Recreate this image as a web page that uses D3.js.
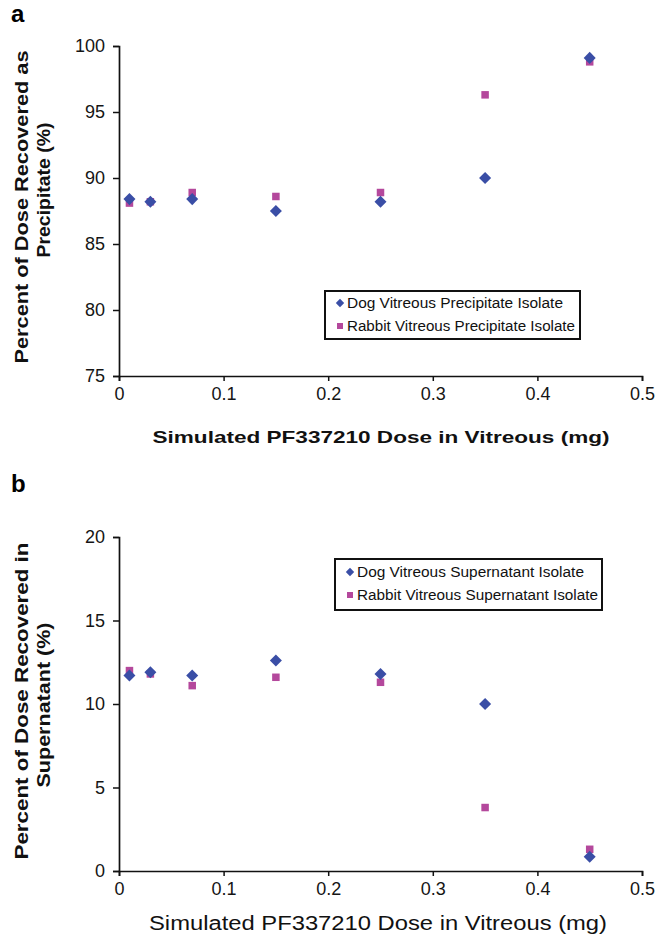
<!DOCTYPE html>
<html>
<head>
<meta charset="utf-8">
<script src="https://cdn.jsdelivr.net/npm/d3@7"></script>
<style>
  body { margin: 0; background: #fff; }
  svg { display: block; font-family: "Liberation Sans", Arial, sans-serif; }
</style>
</head>
<body>
<svg id="chart" width="657" height="944"></svg>
<script>
// doses (mg)
const doses = [0.01, 0.03, 0.07, 0.15, 0.25, 0.35, 0.45];

// panel a - precipitate
const dogPrecip = [88.4, 88.2, 88.4, 87.5, 88.2, 90.0, 99.1];
const rabbitPrecip = [88.1, 88.2, 88.9, 88.6, 88.9, 96.3, 98.8];
const precipTicks = [75, 80, 85, 90, 95, 100];

// panel b - supernatant
const dogSuper = [11.7, 11.9, 11.7, 12.6, 11.8, 10.0, 0.85];
const rabbitSuper = [12.0, 11.8, 11.1, 11.6, 11.3, 3.8, 1.3];
const superTicks = [0, 5, 10, 15, 20];

const xTicks = [0, 0.1, 0.2, 0.3, 0.4, 0.5];
const xTitle = "Simulated PF337210 Dose in Vitreous (mg)";

const dogColor = "#3a4ea6", rabbitColor = "#b4489c";

const svg = d3.select("#chart");

function panel(opt) {
    const g = svg.append("g");
    const x = d3.scaleLinear().domain([0, 0.5]).range([119, 642]);
    const y = d3.scaleLinear().domain(opt.yDomain).range([opt.bottom, opt.top]);

    // axes
    const xa = g.append("g")
        .attr("transform", `translate(0,${opt.bottom})`)
        .call(d3.axisBottom(x).tickValues(xTicks).tickSize(5).tickPadding(6)
            .tickFormat(d => d === 0 ? "0" : d3.format(".1f")(d)));
    const ya = g.append("g")
        .attr("transform", "translate(119,0)")
        .call(d3.axisLeft(y).tickValues(opt.yTicks).tickSize(6).tickPadding(8));
    [xa, ya].forEach(a => {
        a.select(".domain").attr("stroke", "#111").attr("stroke-width", 1.7);
        a.selectAll(".tick line").attr("stroke", "#111").attr("stroke-width", 1.5);
        a.selectAll("text").attr("font-size", 18).attr("fill", "#151515")
            .attr("font-family", "'Liberation Sans', Arial, sans-serif");
    });

    // panel letter
    g.append("text").attr("x", 11).attr("y", opt.letterY)
        .attr("font-size", 24).attr("font-weight", "bold").text(opt.letter);

    // y title (two lines)
    opt.yTitle.forEach((t, i) => {
        g.append("text")
            .attr("transform", `translate(${opt.yTitleX[i]},${opt.yTitleY[i]}) rotate(-90)`)
            .attr("text-anchor", "middle")
            .attr("font-size", 18).attr("font-weight", "bold").attr("fill", "#111")
            .attr("textLength", opt.yTitleLen[i]).attr("lengthAdjust", "spacingAndGlyphs")
            .text(t);
    });

    // x title
    g.append("text")
        .attr("x", opt.xTitleX).attr("y", opt.xTitleBase)
        .attr("text-anchor", "middle")
        .attr("font-size", opt.xTitleSize).attr("font-weight", opt.xTitleWeight).attr("fill", "#111")
        .attr("textLength", opt.xTitleLen).attr("lengthAdjust", "spacingAndGlyphs")
        .text(xTitle);

    // points: rabbit squares under dog diamonds
    const sq = 7.5;
    const diamond = d3.symbol().type(d3.symbolDiamond2).size(92);
    g.append("g").selectAll("rect")
        .data(doses.map((d, i) => [d, opt.rabbit[i]])).join("rect")
        .attr("x", d => x(d[0]) - sq / 2).attr("y", d => y(d[1]) - sq / 2)
        .attr("width", sq).attr("height", sq).attr("fill", rabbitColor);
    g.append("g").selectAll("path")
        .data(doses.map((d, i) => [d, opt.dog[i]])).join("path")
        .attr("transform", d => `translate(${x(d[0])},${y(d[1])})`)
        .attr("d", diamond).attr("fill", dogColor);

    // legend
    const L = opt.legend;
    const lg = g.append("g");
    lg.append("rect").attr("x", L.x).attr("y", L.y).attr("width", L.w).attr("height", L.h)
        .attr("fill", "#fff").attr("stroke", "#111").attr("stroke-width", 2);
    L.labels.forEach((t, i) => {
        const cy = L.y + L.rows[i];
        if (i === 0) {
            lg.append("path").attr("transform", `translate(${L.x + 15},${cy})`)
                .attr("d", d3.symbol().type(d3.symbolDiamond2).size(45)).attr("fill", dogColor);
        } else {
            lg.append("rect").attr("x", L.x + 15 - 3).attr("y", cy - 3)
                .attr("width", 6).attr("height", 6).attr("fill", rabbitColor);
        }
        lg.append("text").attr("x", L.x + 22).attr("y", cy + 5)
            .attr("font-size", 14).attr("fill", "#111")
            .attr("textLength", L.lens[i]).attr("lengthAdjust", "spacingAndGlyphs")
            .text(t);
    });
}

panel({
    letter: "a", letterY: 22,
    yDomain: [75, 100], yTicks: precipTicks, top: 46, bottom: 376,
    dog: dogPrecip, rabbit: rabbitPrecip,
    yTitle: ["Percent of Dose Recovered as", "Precipitate (%)"],
    yTitleX: [28, 50], yTitleY: [207, 190], yTitleLen: [313, 135],
    xTitleX: 381, xTitleBase: 443, xTitleSize: 17, xTitleWeight: "bold", xTitleLen: 457,
    legend: {x: 325, y: 291, w: 255, h: 48, rows: [12, 35],
        labels: ["Dog Vitreous Precipitate Isolate", "Rabbit Vitreous Precipitate Isolate"],
        lens: [216, 228]}
});

panel({
    letter: "b", letterY: 492,
    yDomain: [0, 20], yTicks: superTicks, top: 537, bottom: 871,
    dog: dogSuper, rabbit: rabbitSuper,
    yTitle: ["Percent of Dose Recovered in", "Supernatant (%)"],
    yTitleX: [28, 50], yTitleY: [701, 705], yTitleLen: [317, 165],
    xTitleX: 378, xTitleBase: 930, xTitleSize: 20, xTitleWeight: "normal", xTitleLen: 458,
    legend: {x: 335, y: 559, w: 267, h: 51, rows: [13, 36],
        labels: ["Dog Vitreous Supernatant Isolate", "Rabbit Vitreous Supernatant Isolate"],
        lens: [227, 241]}
});
</script>
</body>
</html>
